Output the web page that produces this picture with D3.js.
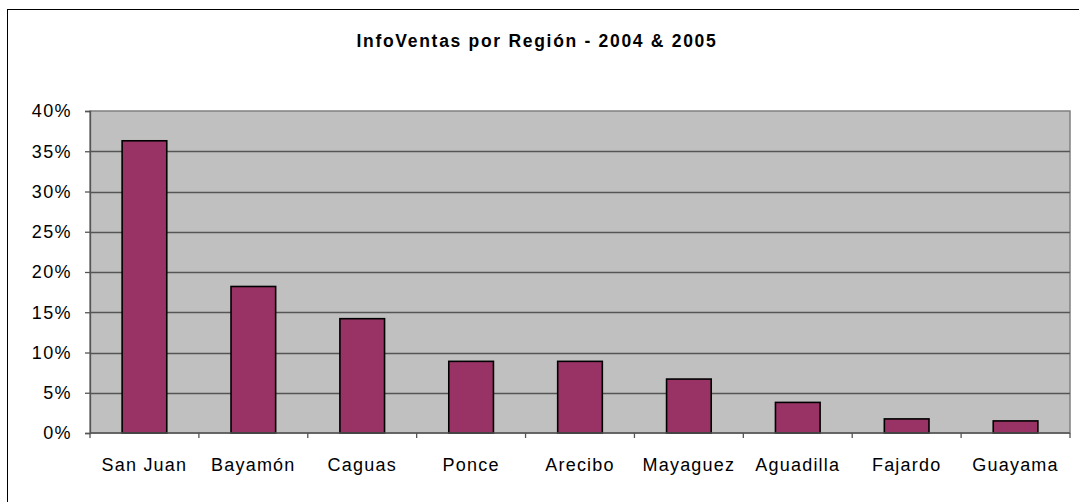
<!DOCTYPE html>
<html><head><meta charset="utf-8">
<script src="https://cdn.jsdelivr.net/npm/d3@7"></script>
<style>html,body{margin:0;padding:0;background:#fff;overflow:hidden}</style>
</head><body>
<svg id="c" width="1079" height="502"></svg>
<script>
const categories = ["San Juan","Bayamón","Caguas","Ponce","Arecibo","Mayaguez","Aguadilla","Fajardo","Guayama"];
const values = [0.363, 0.182, 0.142, 0.089, 0.089, 0.067, 0.038, 0.0175, 0.015];
const yTicks = [0, 0.05, 0.10, 0.15, 0.20, 0.25, 0.30, 0.35, 0.40];
const title = "InfoVentas por Región - 2004 & 2005";

const svg = d3.select("#c");
const font = "'Liberation Sans', Arial, sans-serif";
const L = 90, R = 1070, T = 111, B = 433;

// outer chart border (right/bottom run off the picture)
svg.append("rect").attr("x",7.5).attr("y",9.5).attr("width",1100).attr("height",600)
  .attr("fill","none").attr("stroke","#000").attr("stroke-width",1);

svg.append("text").attr("x",537).attr("y",47).attr("text-anchor","middle")
  .attr("font-family",font).attr("font-weight","bold").attr("font-size",17.5)
  .attr("letter-spacing",1.7).text(title);

const x = d3.scaleBand().domain(categories).range([L,R]).padding(0);
const y = d3.scaleLinear().domain([0,0.40]).range([B,T]);

svg.append("rect").attr("x",L).attr("y",T).attr("width",R-L).attr("height",B-T)
  .attr("fill","#C0C0C0").attr("stroke","#808080").attr("stroke-width",1.5);

// gridlines
svg.append("g").selectAll("line").data(yTicks.filter(d=>d>0 && d<0.40)).join("line")
  .attr("x1",L).attr("x2",R).attr("y1",d=>Math.round(y(d))+0.5).attr("y2",d=>Math.round(y(d))+0.5)
  .attr("stroke","#555").attr("stroke-width",1.3);

// bars
const bw = x.bandwidth()*0.41;
svg.append("g").selectAll("rect").data(values).join("rect")
  .attr("x",(d,i)=>x(categories[i])+x.bandwidth()/2-bw/2)
  .attr("y",d=>y(d)).attr("width",bw).attr("height",d=>B-y(d))
  .attr("fill","#993366").attr("stroke","#000").attr("stroke-width",1.6);

// y axis
const yAxis = d3.axisLeft(y).tickValues(yTicks).tickFormat(d3.format(".0%")).tickSize(5).tickPadding(13);
const gy = svg.append("g").attr("transform",`translate(${L},0)`).call(yAxis);
gy.select(".domain").attr("stroke","#555").attr("stroke-width",1.3);
gy.selectAll(".tick line").attr("stroke","#555").attr("stroke-width",1.3);
gy.selectAll("text").attr("font-family",font).attr("font-size",18).attr("letter-spacing",1.4).attr("fill","#000");

// x axis with ticks at category boundaries
const gx = svg.append("g").attr("transform",`translate(0,${B})`);
gx.append("line").attr("x1",L).attr("x2",R).attr("stroke","#555").attr("stroke-width",1.3);
const bounds = categories.map(c=>x(c)).concat([R]);
gx.selectAll("line.t").data(bounds).join("line").attr("class","t")
  .attr("x1",d=>d).attr("x2",d=>d).attr("y1",0).attr("y2",5)
  .attr("stroke","#555").attr("stroke-width",1.3);
gx.selectAll("text").data(categories).join("text")
  .attr("x",d=>x(d)+x.bandwidth()/2).attr("y",38).attr("text-anchor","middle")
  .attr("font-family",font).attr("font-size",18).attr("letter-spacing",1.2).text(d=>d);
</script>
</body></html>
